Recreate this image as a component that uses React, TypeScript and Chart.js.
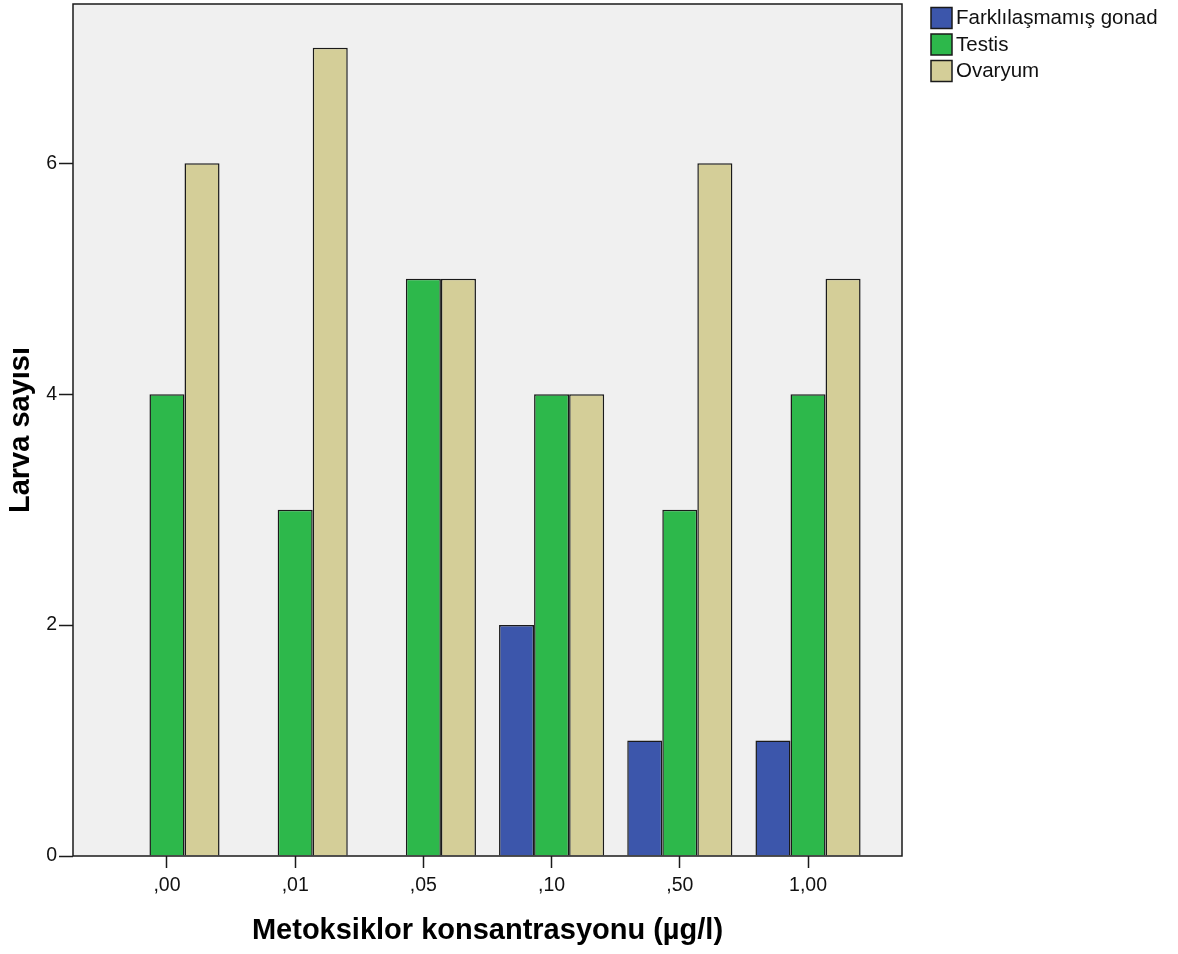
import React, { useEffect, useRef } from "react";
import { Chart, registerables } from "chart.js";

Chart.register(...registerables);

// Concentration groups along the x axis
const concentrations = [",00", ",01", ",05", ",10", ",50", "1,00"];

// Larva counts per gonad type
const undifferentiated = [0, 0, 0, 2, 1, 1];
const testis = [4, 3, 5, 4, 3, 4];
const ovary = [6, 7, 5, 4, 6, 5];

const seriesNames = ["Farklılaşmamış gonad", "Testis", "Ovaryum"];
const seriesColors = ["#3c56ab", "#2db84b", "#d4ce98"];

const yTicks = [0, 2, 4, 6];

const FONT = "'Liberation Sans', Arial, sans-serif";
const INK = "#1a1a1a";

const toPoints = (vals: number[]) => vals.map((v, i) => ({ x: i, y: v }));

// Grey plot background and dark frame around the chart area
const framePlugin = {
  id: "frame",
  beforeDraw(chart: any) {
    const { ctx, chartArea: a } = chart;
    ctx.save();
    ctx.fillStyle = "#f0f0f0";
    ctx.fillRect(a.left, a.top, a.right - a.left, a.bottom - a.top);
    ctx.restore();
  },
  afterDatasetsDraw(chart: any) {
    const { ctx, chartArea: a } = chart;
    ctx.save();
    ctx.strokeStyle = INK;
    ctx.lineWidth = 1.5;
    ctx.strokeRect(a.left, a.top, a.right - a.left, a.bottom - a.top);
    ctx.restore();
  },
};

// Legend at the top right, boxes with a dark outline
const sideLegend = {
  id: "sideLegend",
  afterDraw(chart: any) {
    const { ctx, chartArea: a } = chart;
    ctx.save();
    chart.data.datasets.forEach((ds: any, i: number) => {
      const x = a.right + 29;
      const y = a.top + 3.5 + i * 26.5;
      ctx.fillStyle = ds.backgroundColor;
      ctx.fillRect(x, y, 21, 21);
      ctx.strokeStyle = INK;
      ctx.lineWidth = 1.5;
      ctx.strokeRect(x, y, 21, 21);
      ctx.fillStyle = "#111";
      ctx.font = `20.5px ${FONT}`;
      ctx.textBaseline = "middle";
      ctx.textAlign = "left";
      ctx.fillText(ds.label, x + 25, y + 11);
    });
    ctx.restore();
  },
};

export default function App() {
  const canvasRef = useRef<HTMLCanvasElement | null>(null);

  useEffect(() => {
    if (!canvasRef.current) return;
    const series = [undifferentiated, testis, ovary];
    const chart = new Chart(canvasRef.current, {
      type: "bar",
      data: {
        datasets: series.map((vals, i) => ({
          label: seriesNames[i],
          data: toPoints(vals),
          backgroundColor: seriesColors[i],
          borderColor: INK,
          borderWidth: 1.5,
          barPercentage: 1,
          categoryPercentage: 0.82,
        })),
      },
      options: {
        animation: false,
        responsive: true,
        maintainAspectRatio: false,
        layout: { padding: { top: 4, right: 276, bottom: 0, left: 0 } },
        plugins: {
          legend: { display: false },
          tooltip: { enabled: false },
        },
        scales: {
          x: {
            type: "linear",
            offset: false,
            min: -0.733,
            max: 5.733,
            afterBuildTicks: (scale: any) => {
              scale.ticks = concentrations.map((_, i) => ({ value: i }));
            },
            afterFit: (scale: any) => {
              scale.height = 98;
              scale.paddingLeft = 0;
              scale.paddingRight = 0;
            },
            ticks: {
              autoSkip: false,
              maxRotation: 0,
              padding: 6,
              color: "#111",
              font: { family: FONT, size: 19.5 },
              callback: (v: any) => concentrations[Math.round(Number(v))] ?? "",
            },
            grid: {
              display: true,
              offset: false,
              drawOnChartArea: false,
              drawTicks: true,
              tickLength: 12,
              tickWidth: 1.5,
              tickColor: INK,
            },
            border: { display: false },
            title: {
              display: true,
              text: "Metoksiklor konsantrasyonu (µg/l)",
              color: "#000",
              font: { family: FONT, size: 29, weight: "bold" },
              padding: { top: 0, bottom: 5.5 },
            },
          },
          y: {
            min: 0,
            max: 7.38,
            afterBuildTicks: (scale: any) => {
              scale.ticks = yTicks.map((v) => ({ value: v }));
            },
            afterFit: (scale: any) => {
              scale.width = 73;
              scale.paddingTop = 0;
              scale.paddingBottom = 0;
            },
            ticks: {
              padding: 2,
              color: "#111",
              font: { family: FONT, size: 19.5 },
            },
            grid: {
              display: true,
              drawOnChartArea: false,
              drawTicks: true,
              tickLength: 14,
              tickWidth: 1.5,
              tickColor: INK,
            },
            border: { display: false },
            title: {
              display: true,
              text: "Larva sayısı",
              color: "#000",
              font: { family: FONT, size: 29, weight: "bold" },
              padding: { top: 4, bottom: 0 },
            },
          },
        },
      },
      plugins: [framePlugin, sideLegend],
    } as any);
    return () => chart.destroy();
  }, []);

  return (
    <div
      style={{
        position: "absolute",
        left: 0,
        top: 0,
        width: 1178,
        height: 954,
        background: "#fff",
      }}
    >
      <canvas ref={canvasRef} />
    </div>
  );
}
